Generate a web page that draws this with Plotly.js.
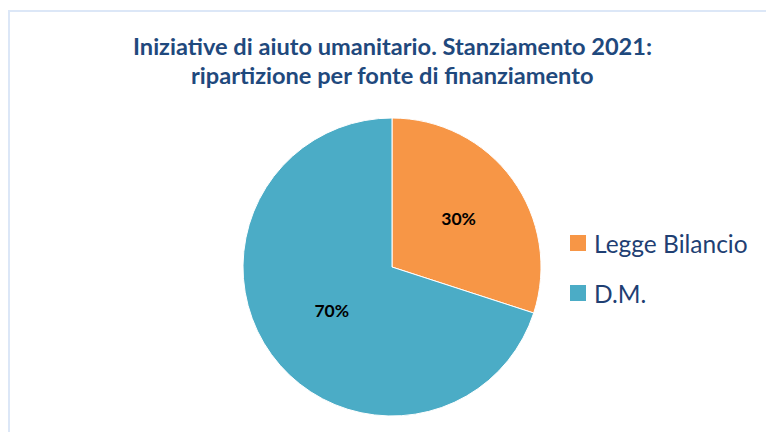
<!DOCTYPE html>
<html><head><meta charset="utf-8">
<script src="https://cdn.plot.ly/plotly-3.0.1.min.js"></script>
<style>
html,body{margin:0;padding:0;background:#fff;}
#wrap{position:relative;width:766px;height:432px;overflow:hidden;}
#chart{width:766px;height:432px;}
#frame{position:absolute;left:8px;top:10px;width:800px;height:500px;border-left:2px solid #DCE7F7;border-top:2px solid #DCE7F7;pointer-events:none;}
</style></head>
<body><div id="wrap"><div id="chart"></div><div id="frame"></div></div>
<script>
const categories = ["Legge Bilancio", "D.M."];
const shares = [30, 70];
const sliceColors = ["#F79646", "#4BACC6"];
const titleLines = ["Iniziative di aiuto umanitario. Stanziamento 2021:", "ripartizione per fonte di finanziamento"];

const W = 766, H = 432;
const px = v => v / W, py = v => 1 - v / H;

const shapes = [], annotations = [];
const legX = 570, legSize = 16, legY0 = 243, legGap = 50;
categories.forEach((c, i) => {
  const cy = legY0 + i * legGap;
  shapes.push({type:"rect", xref:"paper", yref:"paper",
    x0:px(legX), x1:px(legX+legSize), y0:py(cy+legSize/2), y1:py(cy-legSize/2),
    fillcolor:sliceColors[i], line:{width:0}});
  annotations.push({xref:"paper", yref:"paper", x:px(legX+legSize+6), y:py(cy),
    xanchor:"left", yanchor:"middle", showarrow:false, text:c,
    font:{family:"Lato, 'Open Sans', sans-serif", size:24.5, color:"#1F3F73"}});
});
titleLines.forEach((t, i) => {
  annotations.push({xref:"paper", yref:"paper", x:px(392), y:py(46 + i*29),
    xanchor:"center", yanchor:"middle", showarrow:false, text:"<b>" + t + "</b>",
    font:{family:"Lato, 'Open Sans', sans-serif", size:23.6, color:"#1F497D"}});
});

Plotly.newPlot("chart", [{
  type:"pie", labels:categories, values:shares, sort:false, direction:"clockwise", rotation:0,
  marker:{colors:sliceColors, line:{color:"#ffffff", width:1}},
  textinfo:"percent", textposition:"inside", insidetextorientation:"horizontal",
  texttemplate:"<b>%{percent:.0%}</b>",
  textfont:{family:"Lato, 'Open Sans', sans-serif", size:17.5, color:"#000000"},
  domain:{x:[px(243), px(541)], y:[py(416), py(118)]},
  hoverinfo:"none", showlegend:false
}], {
  width:W, height:H, margin:{l:0,r:0,t:0,b:0},
  paper_bgcolor:"#ffffff", plot_bgcolor:"#ffffff",
  shapes:shapes, annotations:annotations, showlegend:false
}, {displayModeBar:false, staticPlot:true});
</script></body></html>
